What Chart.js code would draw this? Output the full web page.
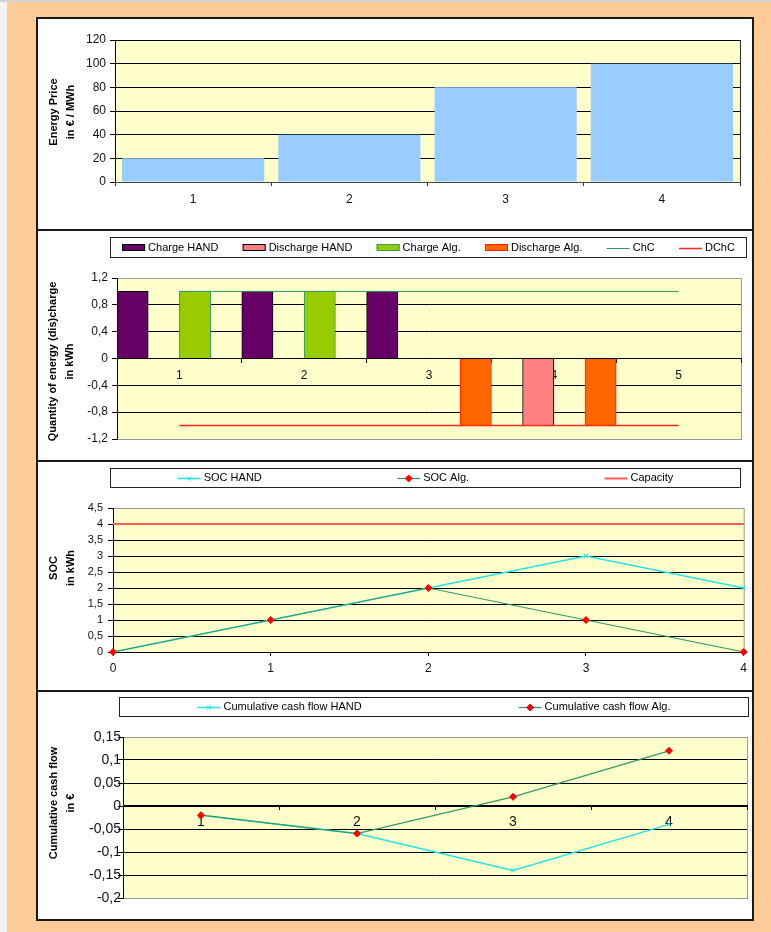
<!DOCTYPE html>
<html>
<head>
<meta charset="utf-8">
<title>Storage dispatch: HAND vs. algorithm</title>
<script src="https://cdn.jsdelivr.net/npm/chart.js@4.4.1/dist/chart.umd.min.js"></script>
<style>
  html, body { margin: 0; padding: 0; }
  body { width: 771px; height: 932px; background: #FFCC99; position: relative; overflow: hidden; }
  #edgeL { position: absolute; left: 0; top: 0; width: 7px; height: 932px; background: #F2F2F2; }
  #edgeT { position: absolute; left: 0; top: 0; width: 771px; height: 2px; background: #D4D4D4; }
  #frame { position: absolute; left: 36px; top: 17px; width: 718px; height: 904px; box-sizing: border-box;
           border: 2px solid #1a1a1a; background: #fff; }
  .sep { position: absolute; left: 36px; width: 718px; height: 2px; background: #1a1a1a; }
  canvas { position: absolute; left: 38px; }
</style>
</head>
<body>
<div id="edgeL"></div>
<div id="edgeT"></div>
<div id="frame"></div>
<div class="sep" style="top:229px"></div>
<div class="sep" style="top:460px"></div>
<div class="sep" style="top:690px"></div>
<canvas id="priceChart" width="714" height="210" style="top:19px"></canvas>
<canvas id="flowChart" width="714" height="229" style="top:231px"></canvas>
<canvas id="socChart" width="714" height="228" style="top:462px"></canvas>
<canvas id="cashChart" width="714" height="227" style="top:692px"></canvas>
<script>
// ---- data ----
const priceHours = ['1', '2', '3', '4'];
const energyPrice = [20, 40, 80, 100];           // € / MWh

const flowHours = ['1', '2', '3', '4', '5'];
const chargeHand = [1, 1, 1, 0, 0];              // kWh
const dischargeHand = [0, 0, 0, -1, 0];
const chargeAlg = [1, 1, 0, 0, 0];
const dischargeAlg = [0, 0, -1, -1, 0];
const chargeLimit = [1, 1, 1, 1, 1];
const dischargeLimit = [-1, -1, -1, -1, -1];

const socSteps = ['0', '1', '2', '3', '4'];
const socHand = [0, 1, 2, 3, 2];                 // kWh
const socAlg = [0, 1, 2, 1, 0];
const socCapacity = [4, 4, 4, 4, 4];

const cashHours = ['1', '2', '3', '4'];
const cashHand = [-0.02, -0.06, -0.14, -0.04];   // €
const cashAlg = [-0.02, -0.06, 0.02, 0.12];

// ---- shared styling ----
const FONT = '"Liberation Sans", Arial, Helvetica, sans-serif';
Chart.defaults.font.family = FONT;
Chart.defaults.color = '#111';
Chart.defaults.animation = false;

const commaTicks = v => String(Number(Number(v).toFixed(2))).replace('.', ',');

// yellow plot area with a thin frame
const plotFrame = {
  id: 'plotFrame',
  beforeDraw(chart, args, o) {
    const { ctx, chartArea: a } = chart;
    ctx.save();
    ctx.fillStyle = o.fill || '#FFFFCC';
    ctx.fillRect(a.left, a.top, a.width + 1, a.height + 1);
    ctx.strokeStyle = o.stroke || '#999';
    ctx.lineWidth = 1;
    ctx.strokeRect(a.left + 0.5, a.top + 0.5, a.width, a.height);
    ctx.restore();
  }
};

// two-line bold axis caption on the left side
const sideTitle = {
  id: 'sideTitle',
  afterDraw(chart, args, o) {
    if (!o || !o.lines) return;
    const { ctx } = chart;
    ctx.save();
    ctx.font = 'bold 11px ' + FONT;
    ctx.fillStyle = '#000';
    ctx.textAlign = 'center';
    ctx.textBaseline = 'middle';
    ctx.translate(o.x, o.y);
    ctx.rotate(-Math.PI / 2);
    for (let i = 0; i < o.lines.length; i++) ctx.fillText(o.lines[i], 0, i * o.lineHeight);
    ctx.restore();
  }
};

// boxed legend with entries spread evenly across the box
const boxLegend = {
  id: 'boxLegend',
  afterDraw(chart, args, o) {
    if (!o || !o.box) return;
    const { ctx } = chart;
    const [x0, y0, x1, y1] = o.box;
    const sample = 23, gap = 3;
    ctx.save();
    ctx.fillStyle = '#fff';
    ctx.fillRect(x0, y0, x1 - x0, y1 - y0);
    ctx.strokeStyle = '#222';
    ctx.lineWidth = 1;
    ctx.strokeRect(x0 + 0.5, y0 + 0.5, x1 - x0 - 1, y1 - y0 - 1);
    ctx.font = '11px ' + FONT;
    const sets = chart.data.datasets;
    const widths = sets.map(ds => sample + gap + ctx.measureText(ds.label).width);
    const total = widths.reduce((s, w) => s + w, 0);
    const pad = (x1 - x0 - total) / (2 * sets.length);
    const cy = (y0 + y1) / 2;
    let x = x0 + pad;
    sets.forEach((ds, i) => {
      const isBar = (ds.type || chart.config.type) === 'bar';
      if (isBar) {
        ctx.fillStyle = ds.backgroundColor;
        ctx.fillRect(x, cy - 3.5, sample, 7);
        ctx.strokeStyle = ds.borderColor;
        ctx.lineWidth = 1;
        ctx.strokeRect(x + 0.5, cy - 3, sample - 1, 6);
      } else {
        ctx.strokeStyle = ds.borderColor;
        ctx.lineWidth = ds.borderWidth || 1;
        ctx.beginPath();
        ctx.moveTo(x, Math.round(cy) + 0.5);
        ctx.lineTo(x + sample, Math.round(cy) + 0.5);
        ctx.stroke();
        if (ds.pointRadius) {
          ctx.fillStyle = ds.pointBackgroundColor;
          ctx.strokeStyle = ds.pointBorderColor;
          ctx.lineWidth = 1;
          Chart.helpers.drawPoint(ctx, { pointStyle: ds.pointStyle, radius: ds.pointRadius, rotation: 0, borderWidth: 1 },
            x + sample / 2, Math.round(cy) + 0.5);
        }
      }
      ctx.fillStyle = '#000';
      ctx.textAlign = 'left';
      ctx.textBaseline = 'middle';
      ctx.fillText(ds.label, x + sample + gap, cy);
      x += widths[i] + 2 * pad;
    });
    ctx.restore();
  }
};

function valueAxis(min, max, step, width, size, padding, edgeColor) {
  return {
    min, max,
    ticks: { stepSize: step, autoSkip: false, font: { size }, padding, color: '#111', callback: commaTicks },
    grid: {
      color: c => (c.tick && (c.tick.value <= min + 1e-9 || c.tick.value >= max - 1e-9)) ? edgeColor : '#000',
      tickColor: '#000', tickLength: 5, lineWidth: 1
    },
    border: { color: '#000' },
    afterFit: s => { s.width = width; }
  };
}

const common = {
  responsive: false,
  maintainAspectRatio: false,
  animation: false,
  events: []
};

// ---- 1: energy price ----
new Chart(document.getElementById('priceChart'), {
  type: 'bar',
  data: {
    labels: priceHours,
    datasets: [{ label: 'Energy Price', data: energyPrice, backgroundColor: '#99CCFF', borderWidth: 0,
                 categoryPercentage: 1, barPercentage: 0.91 }]
  },
  options: Object.assign({}, common, {
    layout: { padding: { top: 21, right: 12, bottom: 0, left: 0 } },
    scales: {
      x: {
        grid: { drawOnChartArea: false, offset: true, tickLength: 4, color: '#333' },
        border: { color: '#444' },
        ticks: { font: { size: 12 }, padding: 6, color: '#111', maxRotation: 0 },
        afterFit: s => { s.height = 47; }
      },
      y: valueAxis(0, 120, 20, 77, 12, 4, '#000')
    },
    plugins: {
      legend: { display: false }, tooltip: { enabled: false },
      plotFrame: { fill: '#FFFFCC', stroke: '#333' },
      sideTitle: { lines: ['Energy Price', 'in € / MWh'], x: 15.5, y: 93, lineHeight: 17 }
    }
  }),
  plugins: [plotFrame, sideTitle]
});

// ---- 2: charge / discharge quantities ----
new Chart(document.getElementById('flowChart'), {
  type: 'bar',
  data: {
    labels: flowHours,
    datasets: [
      { label: 'Charge HAND', data: chargeHand, backgroundColor: '#660066', borderColor: '#000', borderWidth: 1, order: 2 },
      { label: 'Discharge HAND', data: dischargeHand, backgroundColor: '#FF8080', borderColor: '#000', borderWidth: 1, order: 2 },
      { label: 'Charge Alg.', data: chargeAlg, backgroundColor: '#99CC00', borderColor: '#339966', borderWidth: 1, order: 2 },
      { label: 'Discharge Alg.', data: dischargeAlg, backgroundColor: '#FF6600', borderColor: '#FF2200', borderWidth: 1, order: 2 },
      { type: 'line', label: 'ChC', data: chargeLimit, borderColor: '#339966', borderWidth: 1, pointRadius: 0, order: 1 },
      { type: 'line', label: 'DChC', data: dischargeLimit, borderColor: '#FF2A1A', borderWidth: 1.5, pointRadius: 0, order: 1 }
    ]
  },
  options: Object.assign({}, common, {
    layout: { padding: { top: 47, right: 11, bottom: 21, left: 0 } },
    datasets: { bar: { categoryPercentage: 1, barPercentage: 1 } },
    scales: {
      x: {
        position: { y: 0 },
        grid: { drawOnChartArea: false, offset: true, tickLength: 4, color: '#000' },
        border: { color: '#000' },
        ticks: { font: { size: 12 }, padding: 6, color: '#111', maxRotation: 0 }
      },
      y: valueAxis(-1.2, 1.2, 0.4, 79, 12, 4, 'rgba(0,0,0,0)')
    },
    plugins: {
      legend: { display: false }, tooltip: { enabled: false },
      plotFrame: { fill: '#FFFFCC', stroke: '#999' },
      sideTitle: { lines: ['Quantity of energy (dis)charge', 'in kWh'], x: 14.5, y: 130.5, lineHeight: 17 },
      boxLegend: { box: [72, 6, 709, 27] }
    }
  }),
  plugins: [plotFrame, sideTitle, boxLegend]
});

// ---- 3: state of charge ----
new Chart(document.getElementById('socChart'), {
  type: 'line',
  data: {
    labels: socSteps,
    datasets: [
      { label: 'SOC HAND', data: socHand, borderColor: '#22E4E4', borderWidth: 1.5, pointStyle: 'crossRot', pointRadius: 3,
        pointBackgroundColor: '#22E4E4', pointBorderColor: '#22E4E4', pointBorderWidth: 1, order: 1, clip: false },
      { label: 'SOC Alg.', data: socAlg, borderColor: '#339966', borderWidth: 1.2, pointStyle: 'rectRot', pointRadius: 3.5,
        pointBackgroundColor: '#FF0000', pointBorderColor: '#FF0000', pointBorderWidth: 1, order: 0, clip: false },
      { label: 'Capacity', data: socCapacity, borderColor: '#FF6050', borderWidth: 2, pointRadius: 0, order: 2 }
    ]
  },
  options: Object.assign({}, common, {
    layout: { padding: { top: 46, right: 8, bottom: 0, left: 0 } },
    scales: {
      x: {
        offset: false,
        grid: { drawOnChartArea: false, offset: false, tickLength: 4, color: '#000' },
        border: { color: '#000' },
        ticks: { font: { size: 12 }, padding: 5, color: '#111', maxRotation: 0 },
        afterFit: s => { s.height = 38; }
      },
      y: valueAxis(0, 4.5, 0.5, 75, 11, 5, 'rgba(0,0,0,0)')
    },
    plugins: {
      legend: { display: false }, tooltip: { enabled: false },
      plotFrame: { fill: '#FFFFCC', stroke: '#999' },
      sideTitle: { lines: ['SOC', 'in kWh'], x: 15.5, y: 106, lineHeight: 17 },
      boxLegend: { box: [72, 6, 703, 26] }
    }
  }),
  plugins: [plotFrame, sideTitle, boxLegend]
});

// ---- 4: cumulative cash flow ----
new Chart(document.getElementById('cashChart'), {
  type: 'line',
  data: {
    labels: cashHours,
    datasets: [
      { label: 'Cumulative cash flow HAND', data: cashHand, borderColor: '#22E4E4', borderWidth: 1.5, pointStyle: 'crossRot', pointRadius: 3,
        pointBackgroundColor: '#22E4E4', pointBorderColor: '#22E4E4', pointBorderWidth: 1, order: 1, clip: false },
      { label: 'Cumulative cash flow Alg.', data: cashAlg, borderColor: '#339966', borderWidth: 1.2, pointStyle: 'rectRot', pointRadius: 3.5,
        pointBackgroundColor: '#FF0000', pointBorderColor: '#FF0000', pointBorderWidth: 1, order: 0, clip: false }
    ]
  },
  options: Object.assign({}, common, {
    layout: { padding: { top: 45, right: 4, bottom: 21, left: 0 } },
    scales: {
      x: {
        position: { y: 0 },
        offset: true,
        grid: { drawOnChartArea: false, offset: true, tickLength: 4, color: '#000' },
        border: { color: '#000' },
        ticks: { font: { size: 14 }, padding: 4, color: '#111', maxRotation: 0 }
      },
      y: valueAxis(-0.2, 0.15, 0.05, 85, 14, -3, 'rgba(0,0,0,0)')
    },
    plugins: {
      legend: { display: false }, tooltip: { enabled: false },
      plotFrame: { fill: '#FFFFCC', stroke: '#999' },
      sideTitle: { lines: ['Cumulative cash flow', 'in €'], x: 15.5, y: 111, lineHeight: 17 },
      boxLegend: { box: [81, 5, 711, 25] }
    }
  }),
  plugins: [plotFrame, sideTitle, boxLegend]
});
</script>
</body>
</html>
